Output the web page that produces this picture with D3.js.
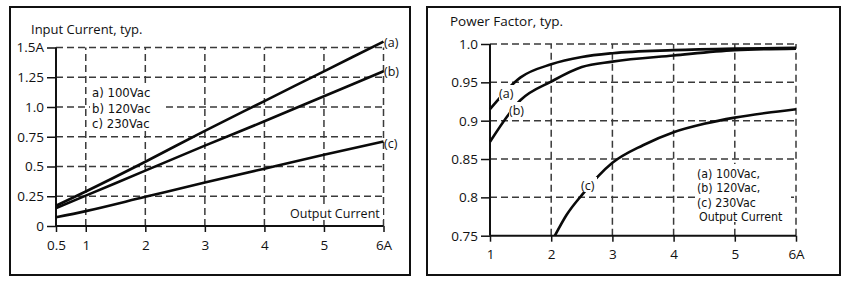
<!DOCTYPE html>
<html>
<head>
<meta charset="utf-8">
<script src="https://cdn.jsdelivr.net/npm/d3@7"></script>
<style>
  body { margin: 0; background: #fff; }
  text { font-family: "Open Sans", sans-serif; fill: #111; }
  text.tight { font-family: "DejaVu Sans Condensed", "DejaVu Sans", sans-serif; }
</style>
</head>
<body>
<svg id="chart" width="850" height="283"></svg>
<script>
// Input current (left panel)
const icX = [0.5, 1, 2, 3, 4, 5, 6];
const icA = [0.17, 0.29, 0.54, 0.80, 1.05, 1.30, 1.55];
const icB = [0.15, 0.255, 0.465, 0.675, 0.88, 1.09, 1.30];
const icC = [0.073, 0.125, 0.245, 0.365, 0.482, 0.598, 0.71];
const icXTicks = [0.5, 1, 2, 3, 4, 5, 6];
const icXLabels = ["0.5", "1", "2", "3", "4", "5", "6A"];
const icYTicks = [0, 0.25, 0.5, 0.75, 1.0, 1.25, 1.5];
const icYLabels = ["0", "0.25", "0.5", "0.75", "1.0", "1.25", "1.5A"];

// Power factor (right panel)
const pfX = [1, 1.5, 2, 2.5, 3, 4, 5, 6];
const pfA = [0.915, 0.9565, 0.9735, 0.983, 0.988, 0.992, 0.994, 0.995];
const pfB = [0.8725, 0.927, 0.951, 0.970, 0.977, 0.985, 0.992, 0.994];
const pfCX = [2.06, 2.25, 2.5, 3, 3.5, 4, 4.5, 5, 5.5, 6];
const pfC = [0.75, 0.777, 0.803, 0.845, 0.868, 0.885, 0.896, 0.904, 0.910, 0.915];
const pfXTicks = [1, 2, 3, 4, 5, 6];
const pfXLabels = ["1", "2", "3", "4", "5", "6A"];
const pfYTicks = [0.75, 0.8, 0.85, 0.9, 0.95, 1.0];
const pfYLabels = ["0.75", "0.8", "0.85", "0.9", "0.95", "1.0"];

const svg = d3.select("#chart");
const gridCol = "#3a3a3a";

function panel(o) {
  const g = svg.append("g");
  g.append("rect").attr("x", o.box[0]).attr("y", o.box[1])
    .attr("width", o.box[2]).attr("height", o.box[3])
    .attr("fill", "#fff").attr("stroke", "#111").attr("stroke-width", 2);

  const x = d3.scaleLinear().domain(o.xDom).range(o.xRange);
  const y = d3.scaleLinear().domain(o.yDom).range(o.yRange);

  // dashed grid
  g.selectAll(".hg").data(o.yTicks.filter(v => v !== o.yDom[0])).join("line")
    .attr("x1", x(o.xDom[0])).attr("x2", x(o.xDom[1]))
    .attr("y1", d => y(d)).attr("y2", d => y(d))
    .attr("stroke", gridCol).attr("stroke-width", 1.5).attr("stroke-dasharray", "7,4");
  g.selectAll(".vg").data(o.xTicks.filter(v => v !== o.xDom[0])).join("line")
    .attr("x1", d => x(d)).attr("x2", d => x(d))
    .attr("y1", y(o.yDom[0])).attr("y2", y(o.yDom[1]))
    .attr("stroke", gridCol).attr("stroke-width", 1.5).attr("stroke-dasharray", "7,4");

  // axes
  const xAxis = d3.axisBottom(x).tickValues(o.xTicks).tickSize(6).tickPadding(8)
    .tickFormat((d, i) => o.xLabels[i]);
  const yAxis = d3.axisLeft(y).tickValues(o.yTicks).tickSize(9).tickPadding(3)
    .tickFormat((d, i) => o.yLabels[i]);
  const ga = g.append("g").attr("transform", `translate(0,${y(o.yDom[0])})`).call(xAxis);
  const gb = g.append("g").attr("transform", `translate(${x(o.xDom[0])},0)`).call(yAxis);
  [ga, gb].forEach(a => {
    a.select(".domain").attr("stroke", "#111").attr("stroke-width", 2);
    a.selectAll(".tick line").attr("stroke", "#111").attr("stroke-width", 1.5);
    a.selectAll("text").style("font-family", "'Open Sans', sans-serif")
      .style("font-size", "13.5px").attr("fill", "#111");
  });
  ga.select(".domain").attr("d", `M${o.xRange[0]},0H${o.xRange[1]}`);
  gb.select(".domain").attr("d", `M0,${o.yRange[0]}V${o.yRange[1]}`);

  // curves
  const line = d3.line().x(d => x(d[0])).y(d => y(d[1])).curve(d3.curveMonotoneX);
  o.series.forEach(s => {
    g.append("path").datum(s.xs.map((v, i) => [v, s.ys[i]]))
      .attr("d", line).attr("fill", "none").attr("stroke", "#0a0a0a")
      .attr("stroke-width", 2.6);
  });

  // white patches behind label texts
  o.patches.forEach(p => g.append("rect").attr("x", p[0]).attr("y", p[1])
    .attr("width", p[2]).attr("height", p[3]).attr("fill", "#fff"));

  o.texts.forEach(t => g.append("text").attr("x", t[0]).attr("y", t[1])
    .attr("class", t[4] ? "tight" : null)
    .style("font-size", (t[3] || 12) + "px").text(t[2]));
}

panel({
  box: [10, 7, 400, 268],
  xDom: [0.5, 6], xRange: [56, 383.5],
  yDom: [0, 1.5], yRange: [226, 47.5],
  xTicks: icXTicks, xLabels: icXLabels, yTicks: icYTicks, yLabels: icYLabels,
  series: [{xs: icX, ys: icA}, {xs: icX, ys: icB}, {xs: icX, ys: icC}],
  patches: [[90, 84, 74, 46], [289, 205, 94, 15], [385, 34, 18, 16], [385, 62, 18, 16], [385, 134, 18, 16]],
  texts: [
    [31, 34, "Input Current, typ.", 13],
    [92, 97, "a) 100Vac", 13, 1], [92, 112.5, "b) 120Vac", 13, 1], [92, 128, "c) 230Vac", 13, 1],
    [290, 218, "Output Current", 12.5],
    [384, 47, "(a)", 12.5], [384, 76, "(b)", 12.5], [384, 148, "(c)", 12.5]
  ]
});

panel({
  box: [427, 7, 413, 268],
  xDom: [1, 6], xRange: [490, 796],
  yDom: [0.75, 1.0], yRange: [235.7, 44],
  xTicks: pfXTicks, xLabels: pfXLabels, yTicks: pfYTicks, yLabels: pfYLabels,
  series: [{xs: pfX, ys: pfA}, {xs: pfX, ys: pfB}, {xs: pfCX, ys: pfC}],
  patches: [[697, 164, 94, 58], [499, 85, 16, 15], [509, 102, 16, 15], [581, 177, 16, 15]],
  texts: [
    [450, 26, "Power Factor, typ.", 13.5],
    [499, 98, "(a)", 12.5], [509, 115, "(b)", 12.5], [581, 190, "(c)", 12.5],
    [697, 177.5, "(a) 100Vac,", 12.3, 1], [697, 192, "(b) 120Vac,", 12.3, 1], [697, 206.5, "(c) 230Vac", 12.3, 1],
    [699, 221, "Output Current", 12.3, 1]
  ]
});
</script>
</body>
</html>
